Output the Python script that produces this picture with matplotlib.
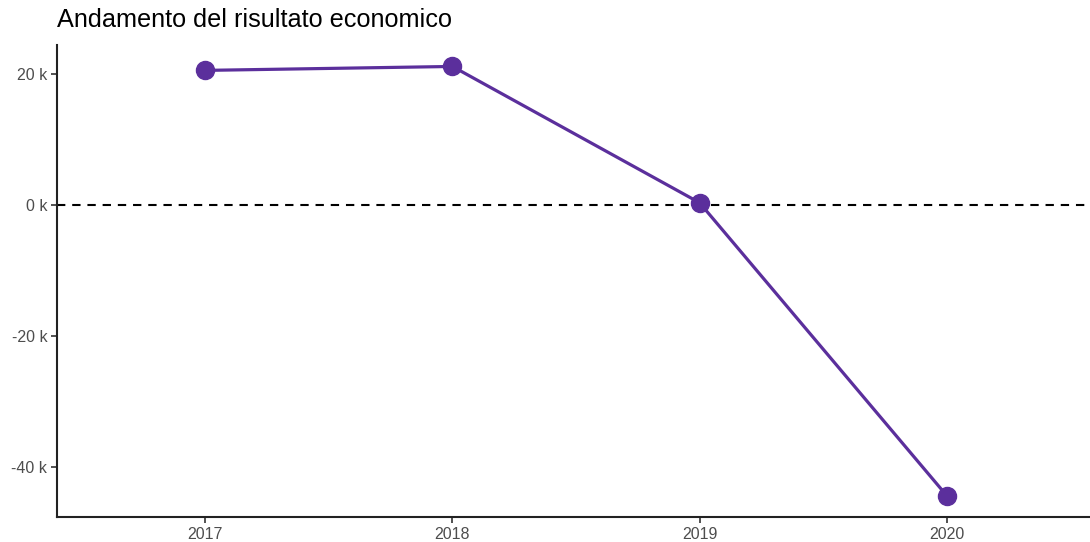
import matplotlib
matplotlib.use("Agg")
import matplotlib.pyplot as plt
from matplotlib.ticker import FuncFormatter

plt.rcParams['font.family'] = ['Liberation Sans', 'DejaVu Sans']

years = ["2017", "2018", "2019", "2020"]
values = [20500, 21100, 300, -44400]
yticks = [-40000, -20000, 0, 20000]
title = "Andamento del risultato economico"
color = "#5b2f9c"

fig = plt.figure(figsize=(10.9, 5.42), dpi=100)
ax = fig.add_axes([57/1090, 1 - 517/542, 1 - 57/1090, (517 - 45)/542])

x = list(range(len(years)))
ax.axhline(0, color="black", lw=1.5, ls=(0, (4, 3.3)), zorder=1)
ax.plot(x, values, color=color, lw=2.3, zorder=2)
ax.plot(x, values, 'o', color=color, ms=13, zorder=3)

ax.set_xticks(x)
ax.set_xticklabels(years)
ax.set_xlim(-0.6, len(years) - 1 + 0.58)
lo, hi = min(values), max(values)
pad = (hi - lo) * 0.05
ax.set_ylim(lo - pad, hi + pad)
ax.set_yticks(yticks)
ax.yaxis.set_major_formatter(FuncFormatter(lambda v, p: f"{int(round(v/1000))} k"))

for s in ["top", "right"]:
    ax.spines[s].set_visible(False)
for s in ["left", "bottom"]:
    ax.spines[s].set_linewidth(1.5)
    ax.spines[s].set_color("#222222")
ax.tick_params(axis="both", length=4, width=1.2, color="#333333", labelcolor="#4d4d4d", labelsize=11.5, pad=3)

fig.text(57/1090, 1 - 20/542, title, fontsize=18.2, va="center", ha="left", color="black")

fig.savefig("out.png", dpi=100)
